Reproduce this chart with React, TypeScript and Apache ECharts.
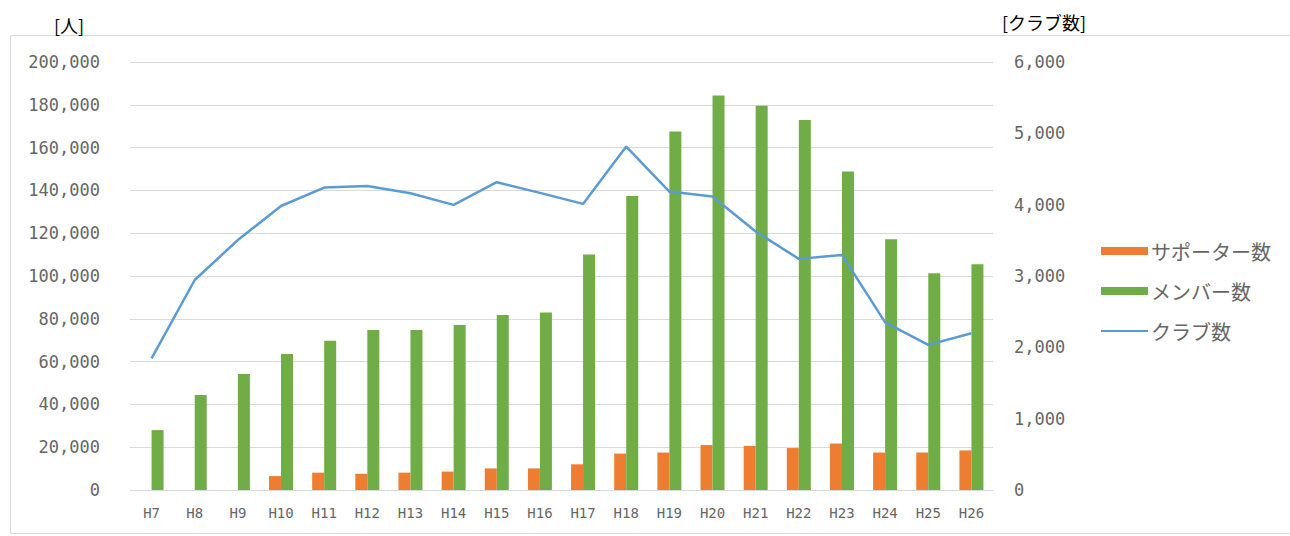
import React, { useEffect, useRef } from "react";
import * as echarts from "echarts";

const categories = ["H7","H8","H9","H10","H11","H12","H13","H14","H15","H16","H17","H18","H19","H20","H21","H22","H23","H24","H25","H26"];
const supporters = [null, null, null, 6500, 8100, 7600, 8100, 8600, 10100, 10100, 12000, 17000, 17500, 21000, 20600, 19600, 21700, 17500, 17500, 18500];
const members = [28000, 44400, 54200, 63600, 69800, 74800, 74800, 77100, 81800, 82900, 110000, 137400, 167500, 184300, 179600, 172900, 148800, 117200, 101300, 105500];
const clubs = [1846, 2944, 3505, 3981, 4240, 4262, 4160, 3997, 4315, 4165, 4011, 4815, 4184, 4114, 3623, 3240, 3296, 2350, 2034, 2198];
const leftTicks = { min: 0, max: 200000, interval: 20000 };
const rightTicks = { min: 0, max: 6000, interval: 1000 };

const fmt = (v: number) => String(v).replace(/\B(?=(\d{3})+(?!\d))/g, ",");

export default function App() {
  const ref = useRef<HTMLDivElement>(null);
  useEffect(() => {
    if (!ref.current) return;
    const chart = echarts.init(ref.current, null, { renderer: "svg" });
    const labelFont = "DejaVu Sans Mono";
    chart.setOption({
      animation: false,
      backgroundColor: "#ffffff",
      textStyle: { fontFamily: "Noto Sans CJK JP" },
      graphic: [
        { type: "rect", shape: { x: 10.5, y: 35.5, width: 1300, height: 498 }, style: { fill: "none", stroke: "#d9d9d9", lineWidth: 1 }, z: -1 },
        { type: "text", x: 54, y: 25, style: { text: "[人]", fill: "#000", font: "18px 'Noto Sans CJK JP'", textVerticalAlign: "middle" } },
        { type: "text", x: 1002, y: 22, style: { text: "[クラブ数]", fill: "#000", font: "18px 'Noto Sans CJK JP'", textVerticalAlign: "middle" } },
      ],
      grid: { left: 130, right: 297, top: 62, bottom: 46, containLabel: false },
      legend: {
        orient: "vertical",
        left: 1095,
        top: 236,
        itemWidth: 47,
        itemHeight: 8,
        itemGap: 20,
        textStyle: { color: "#666666", fontSize: 20, lineHeight: 20, fontFamily: "Noto Sans CJK JP", padding: [0, 0, 0, -2] },
        data: [
          { name: "サポーター数", icon: "rect" },
          { name: "メンバー数", icon: "rect" },
          { name: "クラブ数", itemStyle: { opacity: 0 } },
        ],
      },
      xAxis: {
        type: "category",
        data: categories,
        axisLine: { lineStyle: { color: "#d9d9d9" } },
        axisTick: { show: false },
        axisLabel: { color: "#666666", fontSize: 14, fontFamily: labelFont, margin: 16, interval: 0 },
      },
      yAxis: [
        {
          type: "value",
          ...leftTicks,
          axisLine: { show: false },
          axisTick: { show: false },
          splitLine: { lineStyle: { color: "#d9d9d9" } },
          axisLabel: { color: "#666666", fontSize: 17, fontFamily: labelFont, margin: 30, formatter: fmt },
        },
        {
          type: "value",
          ...rightTicks,
          axisLine: { show: false },
          axisTick: { show: false },
          splitLine: { show: false },
          axisLabel: { color: "#666666", fontSize: 17, fontFamily: labelFont, margin: 21, formatter: fmt },
        },
      ],
      series: [
        { name: "サポーター数", type: "bar", data: supporters, barWidth: 12, barGap: "0%", itemStyle: { color: "#ED7D31" } },
        { name: "メンバー数", type: "bar", data: members, barWidth: 12, barGap: "0%", itemStyle: { color: "#70AD47" } },
        {
          name: "クラブ数",
          type: "line",
          yAxisIndex: 1,
          data: clubs,
          symbol: "none",
          lineStyle: { color: "#5B9BD5", width: 2.5 },
          itemStyle: { color: "#5B9BD5" },
        },
      ],
    });
    return () => chart.dispose();
  }, []);
  return <div ref={ref} style={{ position: "fixed", left: 0, top: 0, width: 1290, height: 536 }} />;
}
